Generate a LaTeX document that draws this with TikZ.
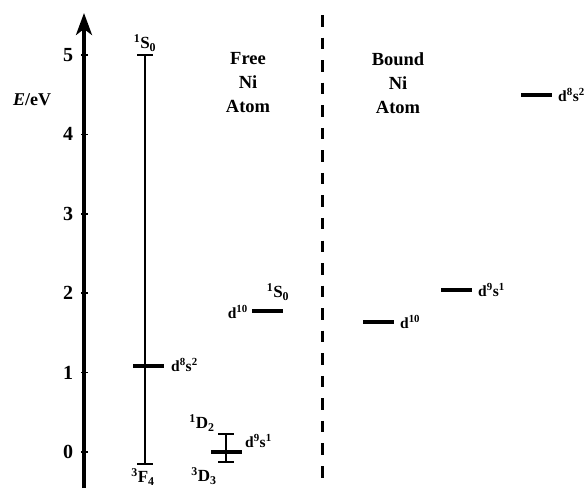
\documentclass[tikz,border=0pt]{standalone}
\usepackage{fontspec}
\setmainfont{Liberation Serif}
\usetikzlibrary{arrows.meta}
\newcommand{\sups}[1]{\textsuperscript{#1}}
\newcommand{\subs}[1]{\textsubscript{#1}}
\begin{document}
\begin{tikzpicture}[x=1pt,y=1pt,
  lbl/.style={font=\bfseries\fontsize{15.5}{15.5}\selectfont, inner sep=0pt},
  term/.style={font=\bfseries\fontsize{17}{17}\selectfont, inner sep=0pt},
  ticklbl/.style={font=\bfseries\fontsize{20}{20}\selectfont, inner sep=0pt},
  head/.style={font=\bfseries\fontsize{18.5}{24}\selectfont, align=center, inner sep=0pt},
  level/.style={line width=3.5pt},
  thinline/.style={line width=1.5pt},
  sep/.style={line width=3pt, dash pattern=on 11.5pt off 11.05pt}]
\useasboundingbox (0,0) rectangle (584,-488);

% axis
\coordinate (ax0) at (84,-488);
\coordinate (ax1) at (84,-13);
\draw[line width=3.5pt, -{Stealth[length=22pt,width=16pt,inset=6pt]}] (ax0) -- (ax1);
\foreach \e in {0,...,5} {
  \coordinate (t\e) at (84,{-452+79.4*\e});
  \draw[line width=1.5pt] ([xshift=-3pt]t\e) -- ([xshift=4pt]t\e);
  \node[ticklbl] (n\e) at (68,{-452+79.4*\e}) {\e};
}
\node[font=\bfseries\fontsize{18}{18}\selectfont, inner sep=0pt] (elbl) at (32,-100) {\textit{E}/eV};

% headings
\node[head] (hfree) at (248,-83) {Free\\Ni\\Atom};
\node[head] (hbound) at (398,-83) {Bound\\Ni\\Atom};

% separator
\coordinate (s0) at (322.5,-15);
\coordinate (s1) at (322.5,-478);
\draw[sep] (s0) -- (s1);

% free atom: 1S0 - 3F4 span
\coordinate (fa) at (145,-55);
\coordinate (fb) at (145,-464);
\draw[thinline] (fa) -- (fb);
\draw[thinline] ([xshift=-8pt]fa) -- ([xshift=8pt]fa);
\draw[thinline] ([xshift=-8pt]fb) -- ([xshift=8pt]fb);
\node[term] (tS0a) at (145,-43) {\sups{1}S\subs{0}};
\node[term] (tF4) at (143,-477) {\sups{3}F\subs{4}};

% d8s2 free
\coordinate (d8a) at (133,-366);
\coordinate (d8b) at (164,-366);
\draw[level] (d8a) -- (d8b);
\node[lbl, anchor=west] (ld8) at (171,-365) {d\sups{8}s\sups{2}};

% d10 free
\coordinate (d10a) at (252,-311);
\coordinate (d10b) at (283,-311);
\draw[level] (d10a) -- (d10b);
\node[lbl, anchor=east] (ld10) at (248,-312) {d\sups{10}};
\node[term] (tS0b) at (278,-292) {\sups{1}S\subs{0}};

% d9s1 free
\coordinate (d9a) at (211,-452);
\coordinate (d9b) at (242,-452);
\draw[level] (d9a) -- (d9b);
\coordinate (eb1) at (226,-434);
\coordinate (eb2) at (226,-462);
\draw[thinline] (eb1) -- (eb2);
\draw[thinline] ([xshift=-8pt]eb1) -- ([xshift=8pt]eb1);
\draw[thinline] ([xshift=-8pt]eb2) -- ([xshift=8pt]eb2);
\node[lbl, anchor=west] (ld9) at (245,-441) {d\sups{9}s\sups{1}};
\node[term] (tD2) at (202,-423) {\sups{1}D\subs{2}};
\node[term] (tD3) at (204,-476) {\sups{3}D\subs{3}};

% bound atom
\coordinate (b8a) at (521,-95);
\coordinate (b8b) at (552,-95);
\draw[level] (b8a) -- (b8b);
\node[lbl, anchor=west] (lb8) at (558,-95) {d\sups{8}s\sups{2}};

\coordinate (b9a) at (441,-290);
\coordinate (b9b) at (472,-290);
\draw[level] (b9a) -- (b9b);
\node[lbl, anchor=west] (lb9) at (478,-290) {d\sups{9}s\sups{1}};

\coordinate (b10a) at (363,-322);
\coordinate (b10b) at (394,-322);
\draw[level] (b10a) -- (b10b);
\node[lbl, anchor=west] (lb10) at (400,-322) {d\sups{10}};
\end{tikzpicture}
\end{document}
